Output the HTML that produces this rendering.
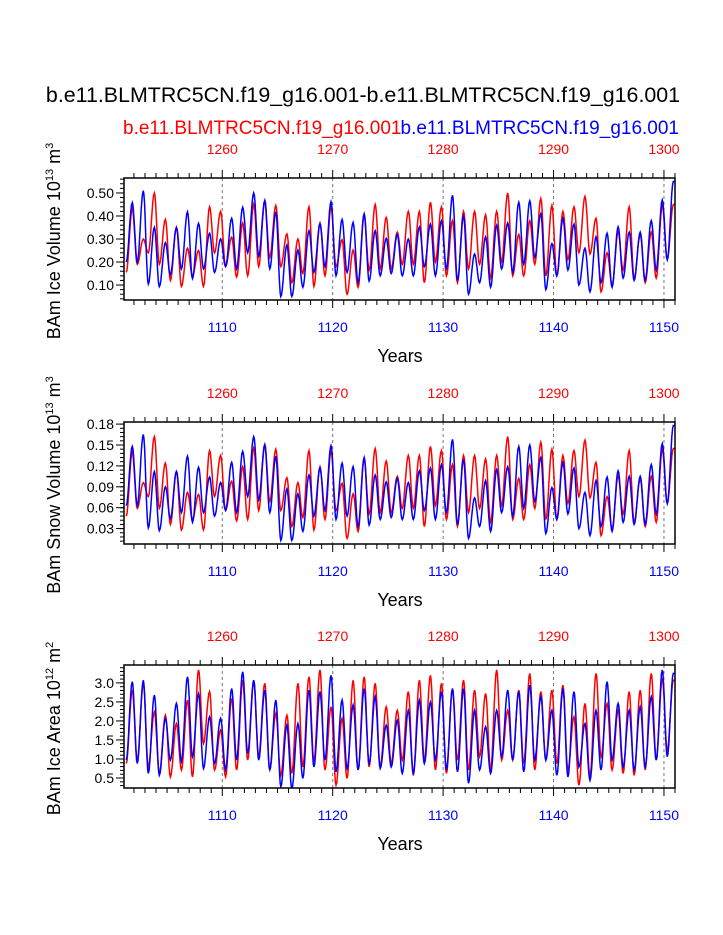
<!DOCTYPE html>
<html><head><meta charset="utf-8"><style>
html,body{margin:0;padding:0;background:#fff;}
svg{display:block;font-family:"Liberation Sans",sans-serif;}
</style></head><body>
<svg id="chart" width="723" height="935" viewBox="0 0 723 935" xmlns="http://www.w3.org/2000/svg">
<text x="363" y="102" font-size="21.4" text-anchor="middle">b.e11.BLMTRC5CN.f19_g16.001-b.e11.BLMTRC5CN.f19_g16.001</text>
<text x="123" y="134" font-size="19" fill="#ff0000">b.e11.BLMTRC5CN.f19_g16.001</text>
<text x="679" y="134" font-size="19" fill="#0000ff" text-anchor="end">b.e11.BLMTRC5CN.f19_g16.001</text>
<g id="panels"></g>
</svg>
<script>
// Shared x axis
const bottomTicks = [1110, 1120, 1130, 1140, 1150];
const topTickLabels = ["1260", "1270", "1280", "1290", "1300"];
const xMinYear = 1101.1, xMaxYear = 1151.0;

// Panel 1: ice volume (peaks near year+0.85, troughs near year+0.3)
const iceBluePeaks = [0.458,0.51,0.351,0.284,0.35,0.418,0.368,0.325,0.30,0.39,0.438,0.5,0.466,0.418,0.274,0.252,0.336,0.365,0.462,0.385,0.372,0.41,0.336,0.303,0.32,
0.30,0.353,0.365,0.38,0.49,0.40,0.235,0.31,0.36,0.37,0.46,0.466,0.41,0.28,0.39,0.365,0.26,0.31,0.325,0.353,0.33,0.33,0.38,0.47,0.55];
const iceBlueTroughs = [0.2,0.2,0.104,0.093,0.145,0.17,0.128,0.17,0.155,0.18,0.17,0.24,0.225,0.17,0.05,0.05,0.09,0.155,0.18,0.14,0.155,0.11,0.117,0.14,0.15,
0.14,0.14,0.18,0.14,0.17,0.12,0.06,0.11,0.09,0.17,0.155,0.19,0.22,0.08,0.14,0.165,0.10,0.07,0.11,0.09,0.13,0.12,0.12,0.165,0.21];
const iceRedPeaks = [0.433,0.30,0.5,0.385,0.351,0.26,0.25,0.44,0.42,0.308,0.37,0.452,0.468,0.446,0.322,0.3,0.44,0.37,0.438,0.297,0.252,0.403,0.45,0.394,0.33,
0.42,0.42,0.46,0.44,0.38,0.42,0.42,0.405,0.42,0.5,0.32,0.38,0.476,0.446,0.42,0.44,0.485,0.39,0.24,0.33,0.44,0.32,0.33,0.446,0.45];
const iceRedTroughs = [0.155,0.19,0.24,0.19,0.12,0.094,0.14,0.094,0.24,0.18,0.135,0.14,0.18,0.22,0.18,0.11,0.15,0.094,0.14,0.18,0.06,0.09,0.165,0.17,0.17,
0.19,0.19,0.11,0.2,0.14,0.11,0.17,0.19,0.13,0.2,0.14,0.14,0.19,0.14,0.14,0.21,0.24,0.235,0.07,0.10,0.165,0.13,0.11,0.13,0.21];
const iceTicks = [0.10,0.20,0.30,0.40,0.50];
const iceTickLabels = ["0.10","0.20","0.30","0.40","0.50"];

// Panel 2: snow volume
const snowBluePeaks = [.148,.165,.112,.090,.112,.134,.118,.104,.096,.125,.141,.162,.150,.134,.087,.080,.107,.117,.149,.124,.119,.132,.107,.097,.102,
.096,.113,.117,.122,.158,.129,.074,.099,.115,.119,.148,.150,.132,.089,.125,.117,.082,.099,.104,.113,.105,.105,.122,.152,.178];
const snowBlueTroughs = [.063,.063,.031,.027,.044,.053,.039,.053,.048,.056,.053,.076,.071,.053,.013,.013,.026,.048,.056,.043,.048,.033,.035,.043,.046,
.043,.043,.056,.043,.053,.036,.016,.033,.026,.053,.048,.059,.069,.023,.043,.051,.030,.020,.033,.026,.039,.036,.036,.051,.066];
const snowRedPeaks = [.140,.096,.162,.124,.112,.082,.079,.142,.135,.098,.119,.146,.151,.144,.103,.096,.142,.119,.141,.095,.080,.130,.145,.127,.105,
.135,.135,.148,.142,.122,.135,.135,.130,.135,.162,.102,.122,.154,.144,.135,.142,.157,.125,.076,.105,.142,.102,.105,.144,.145];
const snowRedTroughs = [.048,.059,.076,.059,.036,.028,.043,.028,.076,.056,.041,.043,.056,.069,.056,.033,.046,.028,.043,.056,.016,.026,.051,.053,.053,
.059,.059,.033,.063,.043,.033,.053,.059,.039,.063,.043,.043,.059,.043,.043,.066,.076,.074,.020,.030,.051,.039,.033,.039,.066];
const snowTicks = [0.03,0.06,0.09,0.12,0.15,0.18];
const snowTickLabels = ["0.03","0.06","0.09","0.12","0.15","0.18"];

// Panel 3: ice area
const areaBluePeaks = [3.03,3.07,2.68,2.07,2.46,3.16,2.72,2.11,2.07,2.85,3.29,3.07,2.81,2.55,1.89,1.93,2.81,2.77,3.2,2.55,2.42,2.85,2.64,1.89,2.02,
2.28,2.55,2.5,2.77,2.85,2.85,2.28,1.85,2.28,2.81,2.77,2.94,2.64,2.28,2.85,2.77,1.93,2.28,3.03,2.46,2.28,2.37,2.64,3.34,3.25];
const areaBlueTroughs = [0.97,0.88,0.62,0.57,0.97,0.93,1.06,0.75,0.88,0.71,0.97,1.14,0.97,0.71,0.27,0.22,0.49,0.79,0.97,0.66,0.75,0.71,0.88,0.75,0.79,
0.62,0.62,0.88,0.97,0.71,0.66,0.36,0.71,0.62,1.06,0.97,0.66,0.97,0.97,0.57,0.53,0.79,0.44,0.71,0.97,0.79,0.71,0.79,0.97,1.06];
const areaRedPeaks = [2.81,2.99,2.24,2.15,1.93,2.55,3.34,2.77,1.76,2.59,3.07,3.03,2.99,2.2,2.15,2.99,3.16,3.34,2.37,2.07,3.07,3.16,2.99,2.37,2.28,
2.77,3.07,3.2,2.99,2.85,3.07,2.81,2.72,3.34,2.28,2.81,3.25,2.77,2.81,2.94,2.11,2.46,3.25,2.46,2.28,2.77,2.81,3.25,3.12,3.07];
const areaRedTroughs = [0.88,0.97,0.79,0.62,0.53,0.71,0.53,1.41,0.71,0.53,0.71,0.97,1.06,0.71,0.57,0.62,0.79,0.93,0.71,0.31,0.49,0.71,0.79,0.79,0.88,
0.97,0.57,0.97,0.71,0.62,0.97,0.71,1.06,0.71,0.97,0.97,0.88,0.71,0.97,0.88,0.71,0.31,0.53,1.06,0.71,0.62,0.57,0.71,0.97,1.23];
const areaTicks = [0.5,1.0,1.5,2.0,2.5,3.0];
const areaTickLabels = ["0.5","1.0","1.5","2.0","2.5","3.0"];

const NS = "http://www.w3.org/2000/svg";
const root = document.getElementById('panels');
function mk(tag, attrs, parent){ const e=document.createElementNS(NS,tag); for(const k in attrs) e.setAttribute(k,attrs[k]); (parent||root).appendChild(e); return e; }

const X0 = 124, X1 = 675;
function xScale(yr){ return X0 + (yr - xMinYear) / (xMaxYear - xMinYear) * (X1 - X0); }

const panels = [
  {key:'ice', top:178, bot:300, ymin:0.035, ymax:0.565, minor:0.02, ticks:iceTicks, labels:iceTickLabels,
   blue:[iceBluePeaks,iceBlueTroughs], red:[iceRedPeaks,iceRedTroughs], title:'BAm Ice Volume 10', exp:'13', unit:' m', uexp:'3'},
  {key:'snow', top:422, bot:544, ymin:0.0079, ymax:0.183, minor:0.006, ticks:snowTicks, labels:snowTickLabels,
   blue:[snowBluePeaks,snowBlueTroughs], red:[snowRedPeaks,snowRedTroughs], title:'BAm Snow Volume 10', exp:'13', unit:' m', uexp:'3'},
  {key:'area', top:665, bot:788, ymin:0.237, ymax:3.47, minor:0.1, ticks:areaTicks, labels:areaTickLabels,
   blue:[areaBluePeaks,areaBlueTroughs], red:[areaRedPeaks,areaRedTroughs], title:'BAm Ice Area 10', exp:'12', unit:' m', uexp:'2'}
];

panels.forEach(p => {
  const g = mk('g', {}); 
  
  
  const yScale = v => p.bot - (v - p.ymin) / (p.ymax - p.ymin) * (p.bot - p.top);
  const cp = mk('clipPath', {id:'clip-'+p.key}, g);
  mk('rect', {x:X0, y:p.top, width:X1-X0, height:p.bot-p.top}, cp);
  bottomTicks.forEach(t => {
    const l = mk('line', {x1:xScale(t), x2:xScale(t), y1:p.top, y2:p.bot, stroke:'#777', 'stroke-width':1, 'stroke-dasharray':'3,3'}, g);
    
    
  });
  function drawSeries(arr, color, name){
    const peaks = arr[0], troughs = arr[1];
    const ext = [];
    for (let k=0;k<peaks.length;k++){
      ext.push([1101.3+k, troughs[k]]);
      ext.push([1101.85+k, peaks[k]]);
    }
    let d = '';
    for (let i=0;i<ext.length-1;i++){
      const a=ext[i], b=ext[i+1];
      for (let s=0;s<=8;s++){
        if (i>0 && s===0) continue;
        const f=s/8, w=(1-Math.cos(Math.PI*f))/2;
        const yr=a[0]+(b[0]-a[0])*f, v=a[1]+(b[1]-a[1])*w;
        d += (d?'L':'M') + xScale(yr).toFixed(1) + ',' + yScale(v).toFixed(1);
      }
    }
    const last = ext[ext.length-1];
    d += 'L' + xScale(last[0]+0.2).toFixed(1) + ',' + yScale(last[1]).toFixed(1);
    const path = mk('path', {d:d, fill:'none', stroke:color, 'stroke-width':1.5, 'clip-path':'url(#clip-'+p.key+')'}, g);
    
    
  }
  drawSeries(p.red, '#ff0000', p.key + '-red-series');
  drawSeries(p.blue, '#0000ff', p.key + '-blue-series');
  const fr = mk('rect', {x:X0, y:p.top, width:X1-X0, height:p.bot-p.top, fill:'none', stroke:'#000', 'stroke-width':1.5}, g);
  
  
  for (let yr=1102; yr<=1151; yr++){
    const major = yr%10===0;
    const len = major?8:5;
    const x = xScale(yr);
    if (x > X1) continue;
    mk('line', {x1:x,x2:x,y1:p.top,y2:p.top-len,stroke:'#000','stroke-width':1}, g);
    mk('line', {x1:x,x2:x,y1:p.bot,y2:p.bot+len,stroke:'#000','stroke-width':1}, g);
  }
  bottomTicks.forEach((t,i) => {
    const b = mk('text', {x:xScale(t), y:p.bot+32, 'font-size':14, fill:'#0000ff', 'text-anchor':'middle'}, g);
    b.textContent = String(t);
    
    
    const tt = mk('text', {x:xScale(t), y:p.top-24, 'font-size':14, fill:'#ff0000', 'text-anchor':'middle'}, g);
    tt.textContent = topTickLabels[i];
    
    
  });
  const nMin = Math.ceil(p.ymin/p.minor), nMax = Math.floor(p.ymax/p.minor);
  for (let n=nMin;n<=nMax;n++){
    const y = yScale(n*p.minor);
    mk('line', {x1:X0,x2:X0-4,y1:y,y2:y,stroke:'#000','stroke-width':1}, g);
  }
  p.ticks.forEach((t,i) => {
    const y = yScale(t);
    mk('line', {x1:X0,x2:X0-8,y1:y,y2:y,stroke:'#000','stroke-width':1}, g);
    const lb = mk('text', {x:X0-10, y:y+5, 'font-size':14, 'text-anchor':'end'}, g);
    lb.textContent = p.labels[i];
    
    
  });
  const xt = mk('text', {x:400, y:p.bot+62, 'font-size':18, 'text-anchor':'middle'}, g);
  xt.textContent = 'Years';
  
  
  const cy = (p.top+p.bot)/2 + 2;
  const yt = mk('text', {x:0, y:0, 'font-size':18, 'text-anchor':'middle', transform:'translate(60,'+cy+') rotate(-90)'}, g);
  
  
  const s1 = document.createElementNS(NS,'tspan'); s1.textContent = p.title; yt.appendChild(s1);
  const s2 = document.createElementNS(NS,'tspan'); s2.setAttribute('dy','-7'); s2.setAttribute('font-size','11'); s2.textContent = p.exp; yt.appendChild(s2);
  const s3 = document.createElementNS(NS,'tspan'); s3.setAttribute('dy','7'); s3.textContent = p.unit; yt.appendChild(s3);
  const s4 = document.createElementNS(NS,'tspan'); s4.setAttribute('dy','-7'); s4.setAttribute('font-size','11'); s4.textContent = p.uexp; yt.appendChild(s4);
});
</script>
</body></html>
